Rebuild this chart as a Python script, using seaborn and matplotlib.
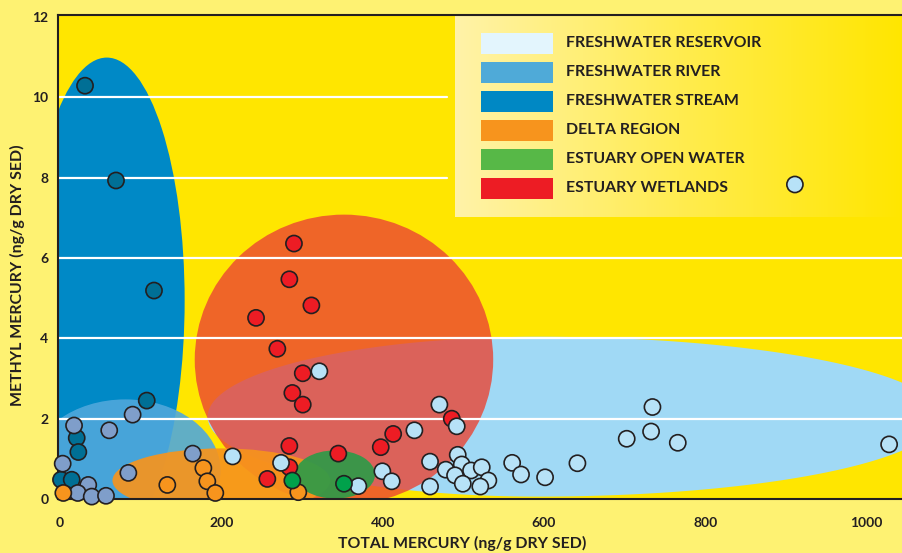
import numpy as np
import pandas as pd
import seaborn as sns
import matplotlib.pyplot as plt
from matplotlib.patches import Ellipse, Polygon, Rectangle
from matplotlib.colors import LinearSegmentedColormap

# ===== DATA =====
groups = ["FRESHWATER RESERVOIR", "FRESHWATER RIVER", "FRESHWATER STREAM",
          "DELTA REGION", "ESTUARY OPEN WATER", "ESTUARY WETLANDS"]

reservoir_x = [321.5, 214, 274, 369.8, 399.6, 411.2, 439.3, 470.3, 491.8, 458.7,
               458.7, 478.2, 493, 498, 489.7, 509.5, 499.3, 522.8, 531, 521,
               560.5, 571.5, 601.3, 641.4, 702.5, 732.7, 734.4, 765.8, 1027.8, 911]
reservoir_y = [3.18, 1.06, 0.90, 0.32, 0.69, 0.44, 1.71, 2.35, 1.81, 0.93,
               0.31, 0.73, 1.10, 0.86, 0.59, 0.71, 0.38, 0.79, 0.46, 0.31,
               0.90, 0.61, 0.54, 0.89, 1.50, 1.68, 2.29, 1.40, 1.36, 7.83]

river_x = [17.4, 90, 61, 3.3, 84.7, 164.5, 35, 22, 39.3, 57]
river_y = [1.83, 2.10, 1.71, 0.88, 0.65, 1.13, 0.35, 0.15, 0.06, 0.08]

stream_x = [31, 69.4, 116.5, 107.5, 20.7, 22.7, 1.2, 14.5]
stream_y = [10.29, 7.93, 5.19, 2.45, 1.52, 1.17, 0.48, 0.48]

delta_x = [4.1, 133, 177.7, 182.6, 192.5, 295.4]
delta_y = [0.15, 0.35, 0.77, 0.44, 0.15, 0.17]

open_x = [288, 352]
open_y = [0.46, 0.38]

wetland_x = [290, 284.3, 311.6, 243, 269.4, 300.9, 288, 300.9, 284.3, 284.3,
             257, 345, 397.6, 413, 485.6]
wetland_y = [6.36, 5.47, 4.82, 4.51, 3.74, 3.13, 2.64, 2.35, 1.32, 0.79,
             0.50, 1.13, 1.29, 1.62, 2.0]

# group ranges drawn as shaded regions: centre x, centre y, width, height
stream_zone = (58, 4.94, 193, 12.1)
river_zone = (81, 0.71, 236, 3.54)
delta_zone = (200, 0.46, 270, 1.6)
open_zone = (341, 0.61, 99, 1.2)
wetland_zone = (352, 3.47, 370, 7.22)
# reservoir zone is egg shaped: centre x, centre y, left half-width, right half-width, half-height
reservoir_zone = (593, 2.05, 410, 498, 1.99)

legend_colors = ["#E3F5FD", "#4FAAD8", "#0088C4", "#F7941D", "#57B847", "#ED1C24"]
point_colors = {"FRESHWATER RESERVOIR": "#B7E2F7", "FRESHWATER RIVER": "#7F9ECA",
                "FRESHWATER STREAM": "#006F95", "DELTA REGION": "#F7941D",
                "ESTUARY OPEN WATER": "#00A14B", "ESTUARY WETLANDS": "#ED1C24"}

# drawing order of the dots
frames = [
    pd.DataFrame({"x": stream_x, "y": stream_y, "group": "FRESHWATER STREAM"}),
    pd.DataFrame({"x": river_x, "y": river_y, "group": "FRESHWATER RIVER"}),
    pd.DataFrame({"x": delta_x, "y": delta_y, "group": "DELTA REGION"}),
    pd.DataFrame({"x": wetland_x, "y": wetland_y, "group": "ESTUARY WETLANDS"}),
    pd.DataFrame({"x": reservoir_x, "y": reservoir_y, "group": "FRESHWATER RESERVOIR"}),
    pd.DataFrame({"x": open_x, "y": open_y, "group": "ESTUARY OPEN WATER"}),
]
df = pd.concat(frames, ignore_index=True)

# ===== STYLE =====
sns.set_style("white")
plt.rcParams["font.family"] = ["Lato", "DejaVu Sans"]
INK = "#231F20"

fig = plt.figure(figsize=(9.03, 5.53), dpi=100, facecolor="#FEF272")
ax = fig.add_axes([58 / 903, 54 / 553, 845 / 903, 484 / 553])
ax.set_facecolor("#FFE600")

# ===== ZONES =====
ax.add_patch(Ellipse(stream_zone[:2], stream_zone[2], stream_zone[3],
                     facecolor="#0089C6", edgecolor="none", zorder=1.0))
ax.add_patch(Ellipse(river_zone[:2], river_zone[2], river_zone[3],
                     facecolor="#50A8DC", alpha=0.9, edgecolor="none", zorder=1.1))

cx, cy, a_left, a_right, b = reservoir_zone
t = np.linspace(0, 2 * np.pi, 400)
semi = np.where(np.cos(t) >= 0, a_right, a_left)
egg = np.column_stack([cx + semi * np.cos(t), cy + b * np.sin(t)])
ax.add_patch(Polygon(egg, closed=True, facecolor="#A0D9F5", edgecolor="none", zorder=1.2))

ax.add_patch(Ellipse(wetland_zone[:2], wetland_zone[2], wetland_zone[3],
                     facecolor="#EB4533", alpha=0.8, edgecolor="none", zorder=1.3))
ax.add_patch(Ellipse(delta_zone[:2], delta_zone[2], delta_zone[3],
                     facecolor="#F7941D", alpha=0.92, edgecolor="none", zorder=1.4))
ax.add_patch(Ellipse(open_zone[:2], open_zone[2], open_zone[3],
                     facecolor="#2E9A48", alpha=0.92, edgecolor="none", zorder=1.5))

# gridlines (upper ones stop at the legend box)
for yv in [2, 4, 6]:
    ax.axhline(yv, color="white", lw=1.6, zorder=2)
for yv in [8, 10]:
    ax.axhline(yv, xmax=0.46, color="white", lw=1.6, zorder=2)

# ===== LEGEND BOX =====
grad = LinearSegmentedColormap.from_list("box", ["#FFF3A8", "#FFEC50", "#FFE600"])
ax.imshow(np.linspace(0, 1, 256).reshape(1, -1), cmap=grad, aspect="auto",
          extent=[0.47, 1.0, 0.583, 1.0], transform=ax.transAxes, zorder=3)
for i, (name, col) in enumerate(zip(groups, legend_colors)):
    yc = 0.9415 - i * 0.0599
    ax.add_patch(Rectangle((0.5006, yc - 0.0217), 0.0852, 0.0434, transform=ax.transAxes,
                           facecolor=col, edgecolor="none", zorder=3.5))
    ax.text(0.601, yc, name, transform=ax.transAxes, va="center", ha="left",
            fontsize=11.4, fontweight="bold", color=INK, zorder=3.5)

# ===== POINTS =====
sns.scatterplot(data=df, x="x", y="y", hue="group", palette=point_colors,
                s=135, edgecolor=INK, linewidth=1.2, legend=False, ax=ax, zorder=6,
                clip_on=False)

# ===== AXES =====
ax.set_xlim(-2.5, 1045)
ax.set_ylim(0, 12.05)
ax.set_xticks(np.arange(0, 1001, 200))
ax.set_yticks(np.arange(0, 13, 2))
ax.tick_params(axis="x", direction="out", length=7, width=1, color="#555555",
               pad=6, labelsize=10, labelcolor=INK)
ax.tick_params(axis="y", direction="in", length=3, width=1, color="#555555",
               pad=7, labelsize=10, labelcolor=INK)
for lab in ax.get_xticklabels() + ax.get_yticklabels():
    lab.set_fontweight("bold")

for side in ["top", "left", "bottom"]:
    ax.spines[side].set_color(INK)
    ax.spines[side].set_linewidth(1.5)
    ax.spines[side].set_zorder(5)
ax.spines["right"].set_visible(False)

ax.set_xlabel("TOTAL MERCURY (ng/g DRY SED)", fontsize=11.4, fontweight="bold", color=INK)
ax.set_ylabel("METHYL MERCURY (ng/g DRY SED)", fontsize=11.4, fontweight="bold", color=INK)
ax.xaxis.label.set_va("center")
ax.yaxis.label.set_va("center")
ax.xaxis.set_label_coords(0.478, -0.091)
ax.yaxis.set_label_coords(-0.0485, 0.463)

fig.savefig("out.png", dpi=100, facecolor=fig.get_facecolor())
